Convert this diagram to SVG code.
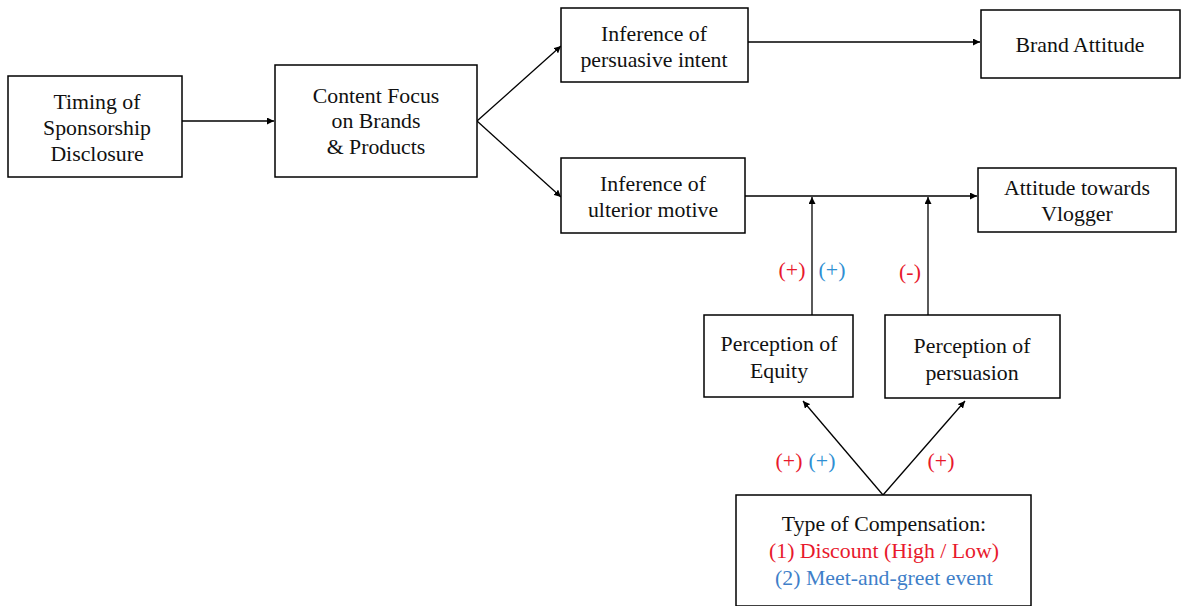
<svg xmlns="http://www.w3.org/2000/svg" width="1190" height="606" viewBox="0 0 1190 606">
<style>
.box{fill:#fff;stroke:#000;stroke-width:1.5}
.t{font-family:"Liberation Serif","Times New Roman",serif;font-size:21.8px;fill:#111;text-anchor:middle}
.c{stroke:#000;stroke-width:1.3;fill:none;marker-end:url(#ah)}
.red{fill:#e8192c}
.blue{fill:#2f8fd3}
.blue2{fill:#3f7fc9}
</style>
<defs>
<marker id="ah" viewBox="0 0 10 10" refX="10" refY="5" markerWidth="7" markerHeight="7" markerUnits="userSpaceOnUse" orient="auto">
<path d="M0,0 L10,5 L0,10 z" fill="#000"/>
</marker>
</defs>
<rect width="1190" height="606" fill="#fff"/>
<g id="connectors">
<line class="c" x1="182" y1="121" x2="274" y2="121"/>
<line class="c" x1="477" y1="121" x2="561" y2="46"/>
<line class="c" x1="477" y1="121" x2="561" y2="197"/>
<line class="c" x1="748" y1="42" x2="980" y2="42"/>
<line class="c" x1="745" y1="196" x2="977" y2="196"/>
<line class="c" x1="812" y1="315" x2="812" y2="197"/>
<line class="c" x1="928" y1="315" x2="928" y2="197"/>
<line class="c" x1="883" y1="495" x2="803" y2="401"/>
<line class="c" x1="883" y1="495" x2="965" y2="401"/>
</g>
<g id="n-timing">
<rect class="box" x="8" y="76" width="174" height="101"/>
<text class="t" x="97" y="109">Timing of</text>
<text class="t" x="97" y="135">Sponsorship</text>
<text class="t" x="97" y="161">Disclosure</text>
</g>
<g id="n-content">
<rect class="box" x="275" y="65" width="202" height="112"/>
<text class="t" x="376" y="103">Content Focus</text>
<text class="t" x="376" y="128">on Brands</text>
<text class="t" x="376" y="154">&amp; Products</text>
</g>
<g id="n-persuasive">
<rect class="box" x="561" y="8" width="187" height="74"/>
<text class="t" x="654" y="41">Inference of</text>
<text class="t" x="654" y="67">persuasive intent</text>
</g>
<g id="n-brand">
<rect class="box" x="981" y="10" width="199" height="68"/>
<text class="t" x="1080" y="52">Brand Attitude</text>
</g>
<g id="n-ulterior">
<rect class="box" x="561" y="158" width="184" height="75"/>
<text class="t" x="653" y="191">Inference of</text>
<text class="t" x="653" y="217">ulterior motive</text>
</g>
<g id="n-vlogger">
<rect class="box" x="978" y="168" width="198" height="64"/>
<text class="t" x="1077" y="195">Attitude towards</text>
<text class="t" x="1077" y="221">Vlogger</text>
</g>
<g id="n-equity">
<rect class="box" x="704" y="315" width="149" height="82"/>
<text class="t" x="779" y="351">Perception of</text>
<text class="t" x="779" y="378">Equity</text>
</g>
<g id="n-persuasion">
<rect class="box" x="885" y="315" width="175" height="83"/>
<text class="t" x="972" y="353">Perception of</text>
<text class="t" x="972" y="380">persuasion</text>
</g>
<g id="n-compensation">
<rect class="box" x="736" y="495" width="295" height="111"/>
<text class="t" x="884" y="531">Type of Compensation:</text>
<text class="t red" x="884" y="558">(1) Discount (High / Low)</text>
<text class="t blue2" x="884" y="585">(2) Meet-and-greet event</text>
</g>
<g id="labels">
<text class="t red" x="792" y="277">(+)</text>
<text class="t blue" x="832" y="277">(+)</text>
<text class="t red" x="910" y="279">(-)</text>
<text class="t red" x="789" y="468">(+)</text>
<text class="t blue" x="822" y="468">(+)</text>
<text class="t red" x="941" y="468">(+)</text>
</g>
</svg>
